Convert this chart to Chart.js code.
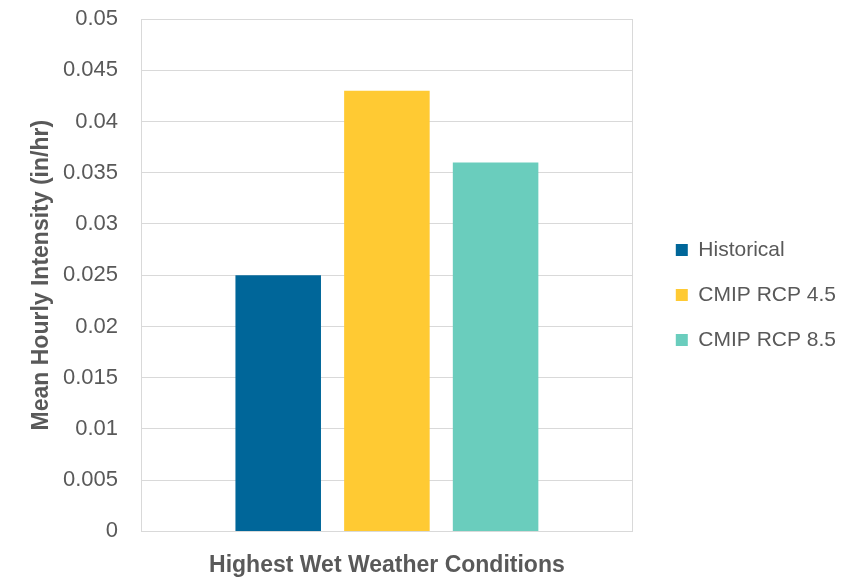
<!DOCTYPE html>
<html>
<head>
<meta charset="utf-8">
<script src="https://cdn.jsdelivr.net/npm/chart.js@4.4.1/dist/chart.umd.min.js"></script>
<style>
  html, body { margin: 0; padding: 0; background: #ffffff; }
  #wrap { width: 848px; height: 579px; }
</style>
</head>
<body>
<div id="wrap"><canvas id="c" width="848" height="579"></canvas></div>
<script>
// Mean hourly rainfall intensity under the highest wet weather conditions
const categories = ['Highest Wet Weather Conditions'];
const seriesNames = ['Historical', 'CMIP RCP 4.5', 'CMIP RCP 8.5'];
const historical = [0.025];
const rcp45 = [0.043];
const rcp85 = [0.036];
const seriesColors = ['#006699', '#FFCA33', '#6ACDBD'];

const textColor = '#595959';
const gridColor = '#D9D9D9';
const fontFamily = '"Liberation Sans", Arial, sans-serif';

const seriesValues = [historical, rcp45, rcp85];

// Leaves a little white space between the plot frame and the legend entries
const legendOffset = {
  id: 'legendOffset',
  afterLayout(chart) {
    const lg = chart.legend;
    if (!lg) return;
    const dx = 19, dy = -4;
    lg.left += dx; lg.right += dx;
    lg.top += dy; lg.bottom += dy;
  }
};

new Chart(document.getElementById('c'), {
  type: 'bar',
  data: {
    labels: categories,
    datasets: seriesNames.map((name, i) => ({
      label: name,
      data: seriesValues[i],
      backgroundColor: seriesColors[i],
      borderWidth: 0,
      categoryPercentage: 0.663,
      barPercentage: 0.787
    }))
  },
  plugins: [legendOffset],
  options: {
    responsive: false,
    animation: false,
    devicePixelRatio: 1,
    layout: { padding: { top: 19, right: 21, bottom: 0, left: 26 } },
    plugins: {
      tooltip: { enabled: false },
      legend: {
        position: 'right',
        align: 'center',
        labels: {
          color: textColor,
          font: { family: fontFamily, size: 21 },
          boxWidth: 12,
          boxHeight: 12,
          padding: 24
        }
      }
    },
    scales: {
      x: {
        grid: { color: gridColor, drawTicks: false, lineWidth: 1 },
        border: { color: gridColor },
        ticks: { display: false },
        title: {
          display: true,
          text: 'Highest Wet Weather Conditions',
          color: textColor,
          font: { family: fontFamily, size: 23, weight: 'bold' },
          padding: { top: 20, bottom: 0 }
        }
      },
      y: {
        min: 0,
        max: 0.05,
        grid: { color: gridColor, drawTicks: false, lineWidth: 1 },
        border: { color: gridColor },
        ticks: {
          stepSize: 0.005,
          color: textColor,
          padding: 23,
          font: { family: fontFamily, size: 22 },
          callback: v => String(Number(v.toFixed(3)))
        },
        title: {
          display: true,
          text: 'Mean Hourly Intensity (in/hr)',
          color: textColor,
          font: { family: fontFamily, size: 23, weight: 'bold' },
          padding: { top: 2, bottom: 0 }
        },
        afterFit: s => {
          s.width = 115;
          s.paddingTop = 0;
          s.paddingBottom = 0;
        }
      }
    }
  }
});
</script>
</body>
</html>
